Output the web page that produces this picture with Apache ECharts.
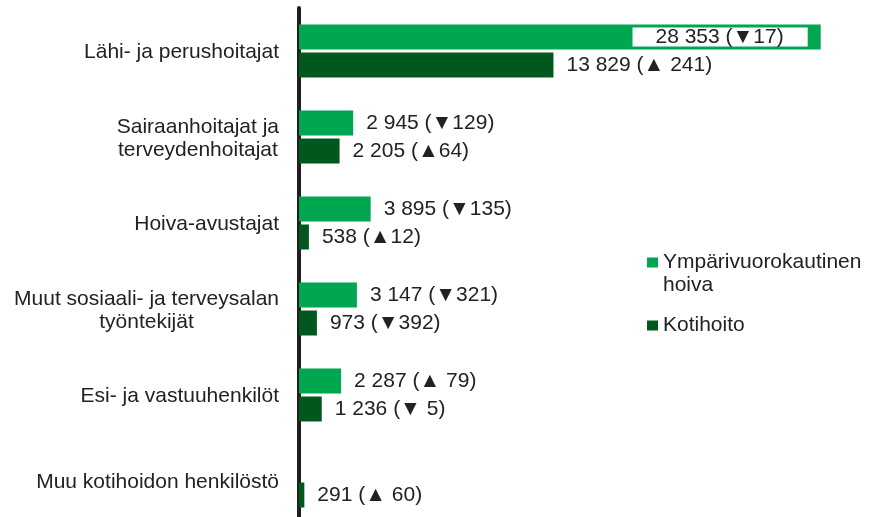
<!DOCTYPE html>
<html>
<head>
<meta charset="utf-8">
<script src="https://cdn.jsdelivr.net/npm/echarts@6/dist/echarts.min.js"></script>
<style>
  html, body { margin: 0; padding: 0; background: #fff; }
  #grafico { width: 878px; height: 517px; }
</style>
</head>
<body>
<div id="grafico"></div>
<script>
var categories = [
    'Lähi- ja perushoitajat',
    'Sairaanhoitajat ja\nterveydenhoitajat',
    'Hoiva-avustajat',
    'Muut sosiaali- ja terveysalan\ntyöntekijät',
    'Esi- ja vastuuhenkilöt',
    'Muu kotihoidon henkilöstö'
];
var ympValues = [28353, 2945, 3895, 3147, 2287, null];
var ympChanges = ['▼17', '▼129', '▼135', '▼321', '▲ 79', null];
var kotiValues = [13829, 2205, 538, 973, 1236, 291];
var kotiChanges = ['▲ 241', '▲64', '▲12', '▼392', '▼ 5', '▲ 60'];

var font = '"Liberation Sans", Arial, sans-serif';
var textColor = '#222';

function fmt(v) {
    return String(v).replace(/\B(?=(\d{3})+(?!\d))/g, ' ');
}

function makeLabel(changes) {
    return function (p) {
        if (p.value == null) return '';
        return fmt(p.value) + ' (' + changes[p.dataIndex] + ')';
    };
}

var ympData = ympValues.map(function (v, i) {
    if (i === 0) {
        return {
            value: v,
            label: {
                position: 'insideRight',
                distance: 13,
                backgroundColor: '#fff',
                padding: [0, 24, 0, 23],
                lineHeight: 19
            }
        };
    }
    return v;
});

var chartDom = document.getElementById('grafico');
var myChart = echarts.init(chartDom);

var option = {
    animation: false,
    textStyle: { fontFamily: font },
    grid: {
        left: 299,
        right: 27,
        top: 8,
        height: 516,
        outerBoundsMode: 'none',
        containLabel: false
    },
    legend: {
        orient: 'vertical',
        left: 647,
        top: 228,
        padding: 0,
        itemWidth: 11,
        itemHeight: 10,
        itemGap: 17,
        icon: 'rect',
        data: ['Ympärivuorokautinen hoiva', 'Kotihoito'],
        formatter: function (name) {
            if (name === 'Ympärivuorokautinen hoiva') {
                return '\nYmpärivuorokautinen\nhoiva';
            }
            return name;
        },
        textStyle: {
            fontFamily: font,
            fontSize: 21,
            lineHeight: 23,
            color: textColor
        }
    },
    xAxis: {
        type: 'value',
        min: 0,
        max: 30000,
        show: false
    },
    yAxis: {
        type: 'category',
        inverse: true,
        data: categories,
        axisLine: { lineStyle: { color: '#1f1f1f', width: 4 } },
        axisTick: { show: false },
        axisLabel: {
            margin: 20,
            align: 'right',
            formatter: function (v) {
                return v.split('\n').map(function (s) { return '{c|' + s + '}'; }).join('\n');
            },
            rich: {
                c: {
                    align: 'center',
                    fontFamily: font,
                    fontSize: 21,
                    lineHeight: 23,
                    padding: [3, 0, 0, 0],
                    color: textColor
                }
            }
        }
    },
    series: [
        {
            name: 'Ympärivuorokautinen hoiva',
            type: 'bar',
            barWidth: 25,
            barGap: '12%',
            itemStyle: { color: '#00a650' },
            label: {
                show: true,
                position: 'right',
                distance: 13,
                fontFamily: font,
                fontSize: 21,
                color: textColor,
                formatter: makeLabel(ympChanges)
            },
            data: ympData
        },
        {
            name: 'Kotihoito',
            type: 'bar',
            barWidth: 25,
            itemStyle: { color: '#00581e' },
            label: {
                show: true,
                position: 'right',
                distance: 13,
                fontFamily: font,
                fontSize: 21,
                color: textColor,
                formatter: makeLabel(kotiChanges)
            },
            data: kotiValues
        }
    ]
};

myChart.setOption(option);
</script>
</body>
</html>
